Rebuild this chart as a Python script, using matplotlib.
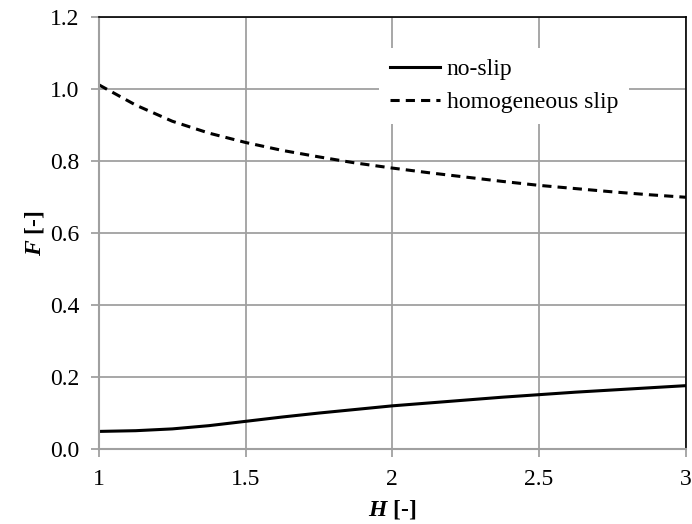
import matplotlib
matplotlib.use("Agg")
import matplotlib.pyplot as plt

plt.rcParams['font.family'] = 'Liberation Serif'
plt.rcParams['font.size'] = 17
plt.rcParams['mathtext.fontset'] = 'custom'
plt.rcParams['mathtext.bfit'] = 'Liberation Serif:italic:bold'
plt.rcParams['mathtext.rm'] = 'Liberation Serif'

# channel height vs. dimensionless force
H = [1.0, 1.125, 1.25, 1.375, 1.5, 1.625, 1.75, 1.875, 2.0,
     2.125, 2.25, 2.375, 2.5, 2.625, 2.75, 2.875, 3.0]
F_noslip = [0.049, 0.051, 0.056, 0.065, 0.077, 0.089, 0.100, 0.110, 0.120,
            0.128, 0.136, 0.144, 0.151, 0.158, 0.164, 0.170, 0.176]
F_slip = [1.011, 0.955, 0.910, 0.877, 0.851, 0.829, 0.811, 0.794, 0.780,
          0.767, 0.755, 0.743, 0.732, 0.723, 0.714, 0.706, 0.699]

fig = plt.figure(figsize=(6.92, 5.24), dpi=100)
ax = fig.add_axes([0.143, 0.143, 0.848, 0.825])

ax.plot(H, F_noslip, color='black', lw=2.2, label='no-slip')
ax.plot(H, F_slip, color='black', lw=2.2, ls=(0, (3, 2)), label='homogeneous slip')

ax.set_xlim(1, 3)
ax.set_ylim(0, 1.2)
ax.set_xticks([1, 1.5, 2, 2.5, 3])
ax.set_xticklabels(['1', '1.5', '2', '2.5', '3'])
ax.set_yticks([0, 0.2, 0.4, 0.6, 0.8, 1.0, 1.2])
ax.set_yticklabels(['0.0', '0.2', '0.4', '0.6', '0.8', '1.0', '1.2'])

ax.grid(True, color='#a0a0a0', lw=1.3)
ax.set_axisbelow(True)
for s in ['left', 'bottom']:
    ax.spines[s].set_color('#a0a0a0')
    ax.spines[s].set_linewidth(1.5)
for s in ['top', 'right']:
    ax.spines[s].set_color('black')
    ax.spines[s].set_linewidth(1.2)
ax.tick_params(length=6, width=1.3, color='#a0a0a0', pad=8)

ax.set_xlabel(r'$\mathbfit{H}$ [-]', fontweight='bold', labelpad=6)
ax.set_ylabel(r'$\mathbfit{F}$ [-]', fontweight='bold', labelpad=3)

leg = ax.legend(loc='upper left', bbox_to_anchor=(0.478, 0.928), borderaxespad=0,
                frameon=True, handlelength=2.1, handletextpad=0.3,
                labelspacing=0.5, fancybox=False, borderpad=0.45)
leg.get_frame().set_edgecolor('none')
leg.get_frame().set_facecolor('white')
leg.get_frame().set_alpha(1)

fig.savefig('out.png', dpi=100)
